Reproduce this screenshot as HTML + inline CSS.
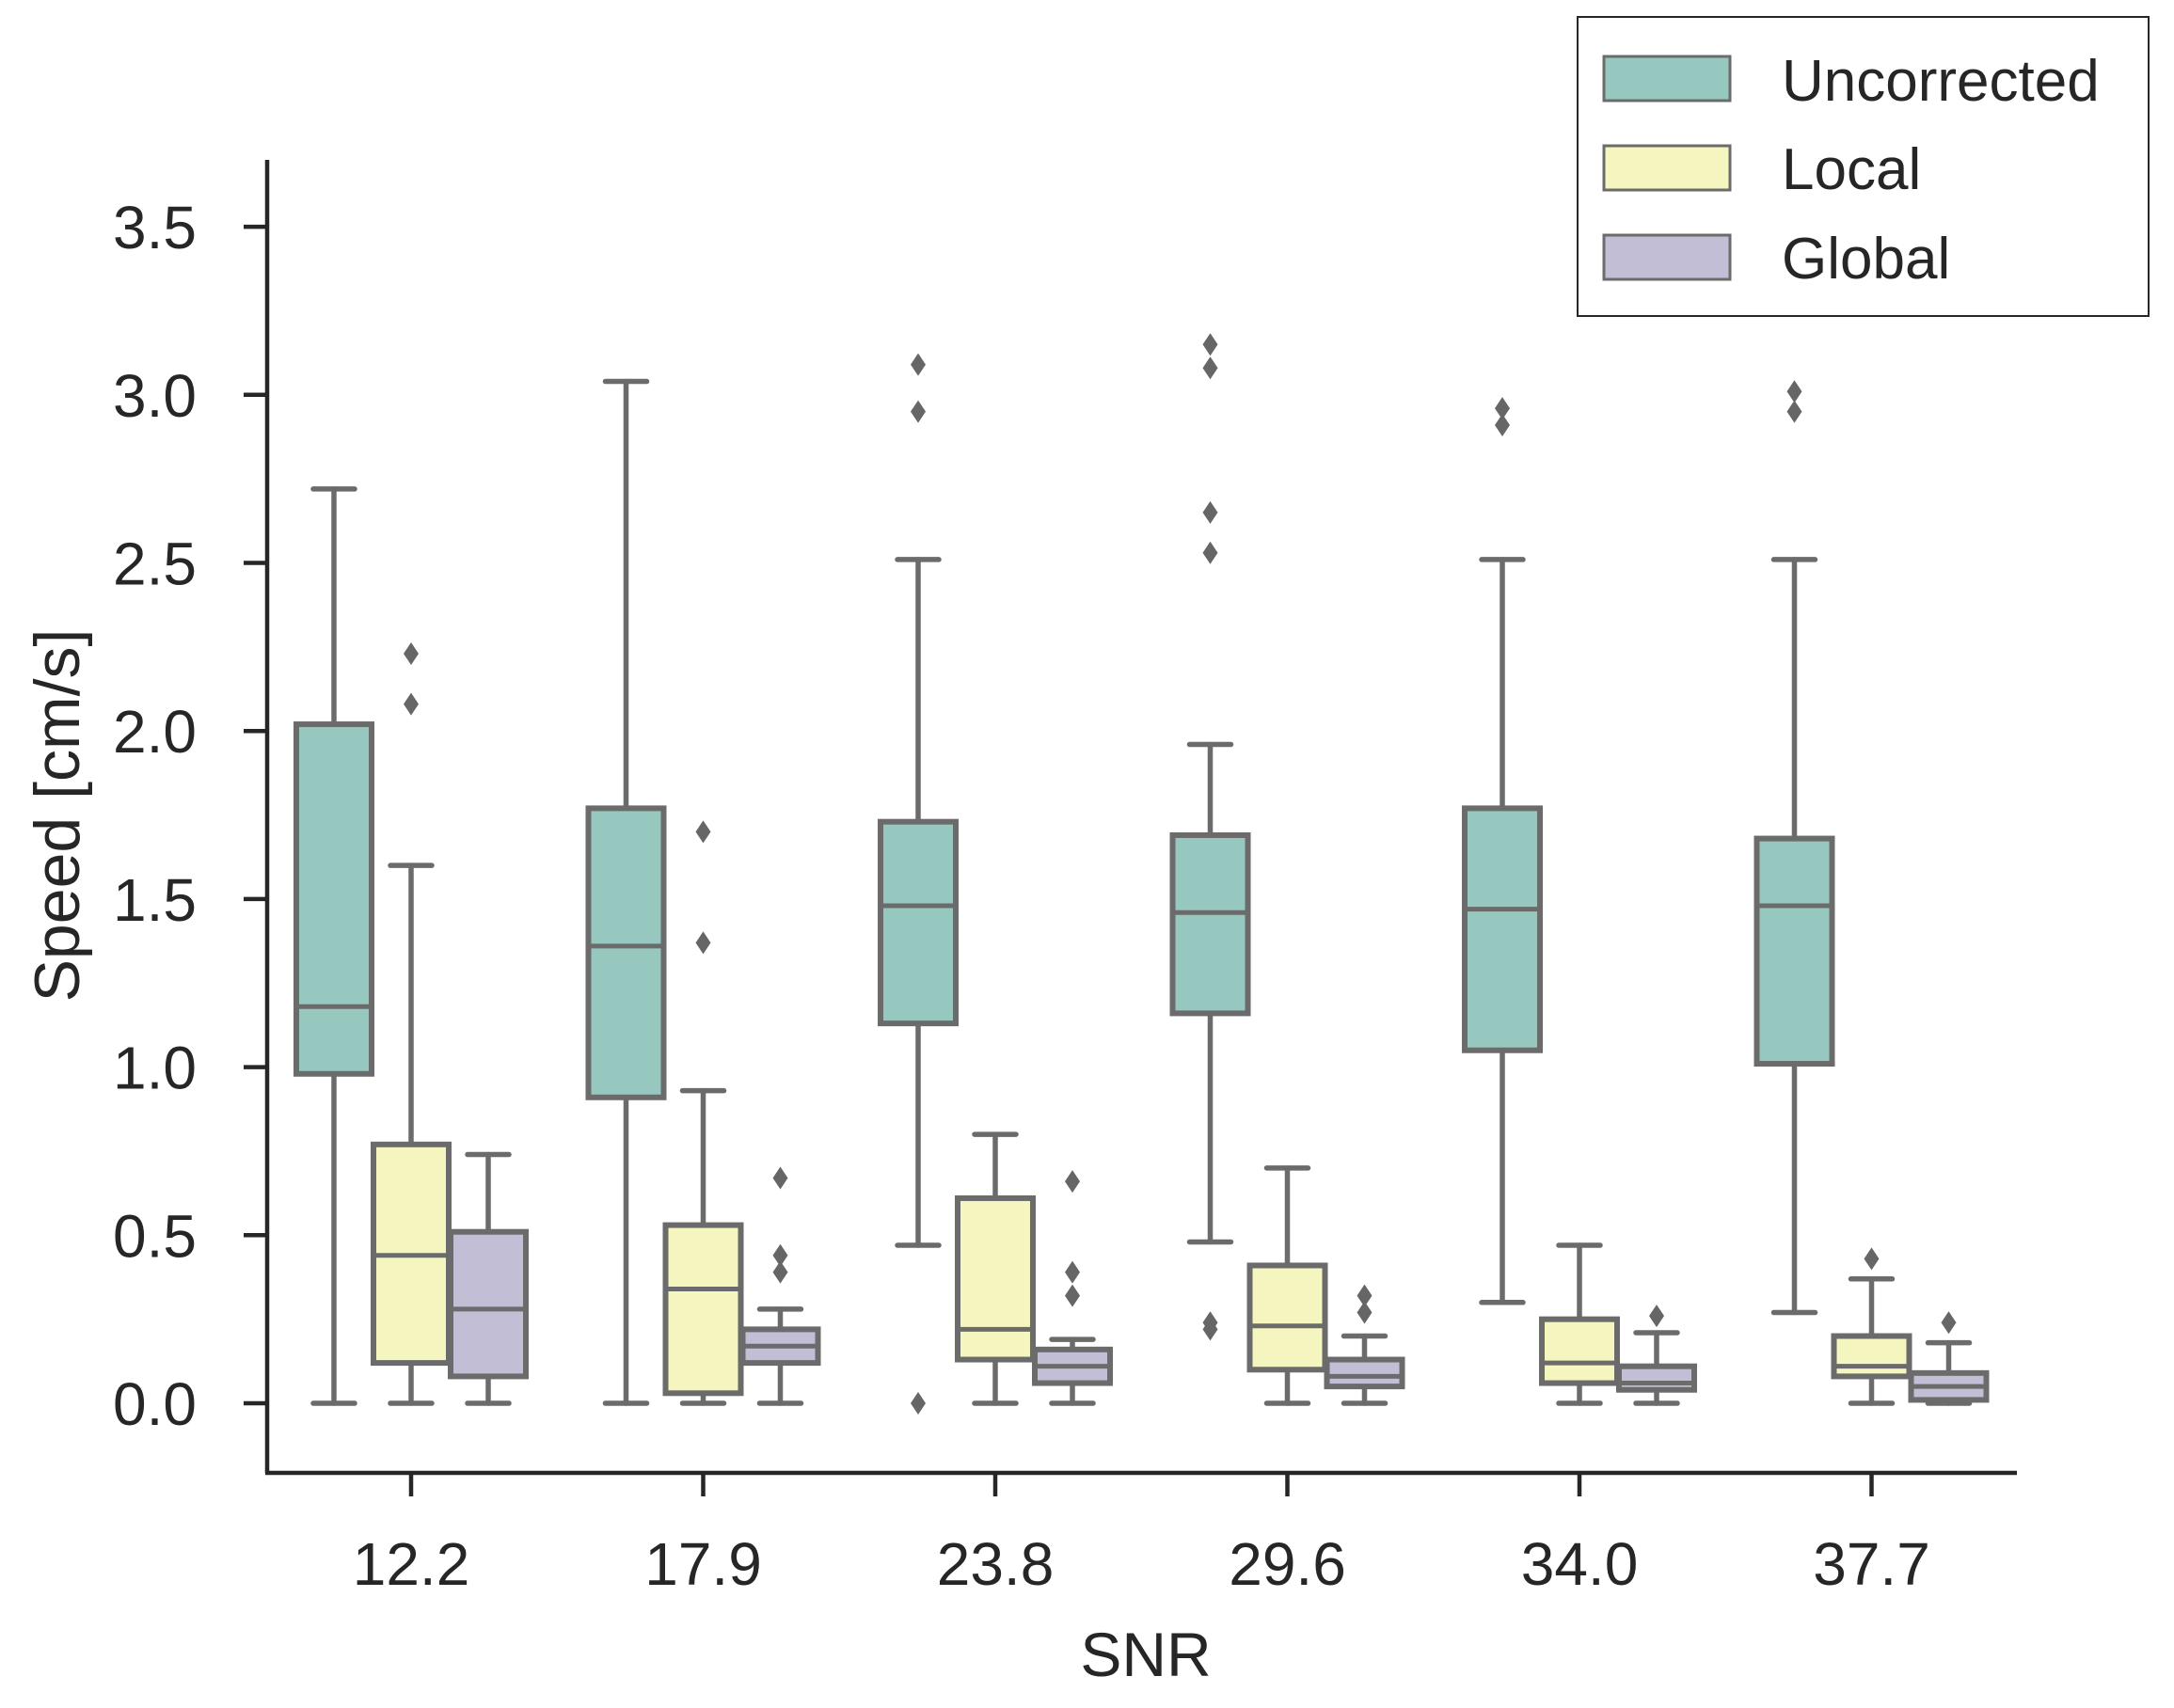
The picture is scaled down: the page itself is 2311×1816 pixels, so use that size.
<!DOCTYPE html>
<html><head><meta charset="utf-8"><style>
body{margin:0;background:#fff}
svg{display:block;font-family:"Liberation Sans",sans-serif}
</style></head><body>
<svg id="chart" width="2311" height="1816" viewBox="0 0 2311 1816" xmlns="http://www.w3.org/2000/svg">
<rect width="2311" height="1816" fill="#fff"/>
<g id="plot"></g>
<text x="1218" y="1782" font-size="66" text-anchor="middle" fill="#262626">SNR</text>
<text transform="translate(84,867) rotate(-90)" font-size="68" text-anchor="middle" fill="#262626">Speed [cm/s]</text>
<g>
<rect x="1677" y="18" width="607" height="318" fill="#fff" stroke="#262626" stroke-width="2"/>
<rect x="1705" y="60" width="134" height="47" fill="#97c8c0" stroke="#6b6b6b" stroke-width="3"/>
<text x="1894" y="107" font-size="62" fill="#262626">Uncorrected</text>
<rect x="1705" y="155" width="134" height="47" fill="#f5f6bf" stroke="#6b6b6b" stroke-width="3"/>
<text x="1894" y="201" font-size="62" fill="#262626">Local</text>
<rect x="1705" y="250" width="134" height="47" fill="#c1bed6" stroke="#6b6b6b" stroke-width="3"/>
<text x="1894" y="296" font-size="62" fill="#262626">Global</text>
</g>
</svg>
<script>
const categories = ["12.2","17.9","23.8","29.6","34.0","37.7"];
const seriesNames = ["Uncorrected","Local","Global"];
const yTicks = [0,0.5,1,1.5,2,2.5,3,3.5];
const yTickLabels = ["0.0","0.5","1.0","1.5","2.0","2.5","3.0","3.5"];
// [whiskerLow, q1, median, q3, whiskerHigh] per category
const uncorrected = [[0,0.98,1.18,2.02,2.72],[0,0.91,1.36,1.77,3.04],[0.47,1.13,1.48,1.73,2.51],[0.48,1.16,1.46,1.69,1.96],[0.30,1.05,1.47,1.77,2.51],[0.27,1.01,1.48,1.68,2.51]];
const local = [[0,0.12,0.44,0.77,1.60],[0,0.03,0.34,0.53,0.93],[0,0.13,0.22,0.61,0.80],[0,0.10,0.23,0.41,0.70],[0,0.06,0.12,0.25,0.47],[0,0.08,0.11,0.20,0.37]];
const global = [[0,0.08,0.28,0.51,0.74],[0,0.12,0.17,0.22,0.28],[0,0.06,0.11,0.16,0.19],[0,0.05,0.08,0.13,0.20],[0,0.04,0.06,0.11,0.21],[0,0.01,0.05,0.09,0.18]];
const uncorrectedOutliers = [[],[],[0.0,2.95,3.09],[0.22,0.24,2.53,2.65,3.08,3.15],[2.91,2.96],[2.95,3.01]];
const localOutliers = [[2.08,2.23],[1.37,1.70],[],[],[],[0.43]];
const globalOutliers = [[],[0.39,0.44,0.67],[0.32,0.39,0.66],[0.27,0.32],[0.26],[0.24]];

const NS="http://www.w3.org/2000/svg";
const g=document.getElementById('plot');
const colors=["#97c8c0","#f5f6bf","#c1bed6"];
const stats=[uncorrected,local,global];
const outs=[uncorrectedOutliers,localOutliers,globalOutliers];
const y0=1492, perUnit=357.4, x0=437, step=310.5, hueOff=82, bw=80;
const yS=v=>y0-v*perUnit;
const xS=i=>x0+i*step;
function el(tag,attrs){const e=document.createElementNS(NS,tag);for(const k in attrs)e.setAttribute(k,attrs[k]);g.appendChild(e);return e;}
let s=el('line',{x1:284,y1:170,x2:284,y2:1566,stroke:'#262626','stroke-width':4.5});


s=el('line',{x1:282,y1:1566,x2:2144,y2:1566,stroke:'#262626','stroke-width':4.5});


yTicks.forEach((v,i)=>{
  const t=el('line',{x1:259,y1:yS(v),x2:284,y2:yS(v),stroke:'#262626','stroke-width':4.5});
  
  
  const l=el('text',{x:209,y:yS(v)+23,'font-size':64,'text-anchor':'end',fill:'#262626'});
  l.textContent=yTickLabels[i];
  
  
});
categories.forEach((c,i)=>{
  const t=el('line',{x1:xS(i),y1:1566,x2:xS(i),y2:1591,stroke:'#262626','stroke-width':4.5});
  
  
  const l=el('text',{x:xS(i),y:1685,'font-size':64,'text-anchor':'middle',fill:'#262626'});
  l.textContent=c;
  
  
  for(let h=0;h<3;h++){
    const d=stats[h][i], cx=xS(i)+(h-1)*hueOff;
    const ln={stroke:'#6b6b6b','stroke-width':5.5,'stroke-linecap':'round'};
    const w1=el('line',Object.assign({x1:cx,y1:yS(d[0]),x2:cx,y2:yS(d[1])},ln));
    
    
    const w2=el('line',Object.assign({x1:cx,y1:yS(d[3]),x2:cx,y2:yS(d[4])},ln));
    
    
    [d[0],d[4]].forEach(v=>{
      const cap=el('line',Object.assign({x1:cx-22,y1:yS(v),x2:cx+22,y2:yS(v)},ln));
      
      
    });
    const b=el('rect',{x:cx-bw/2,y:yS(d[3]),width:bw,height:yS(d[1])-yS(d[3]),fill:colors[h],stroke:'#6b6b6b','stroke-width':6});
    
    
    const m=el('line',{x1:cx-bw/2,y1:yS(d[2]),x2:cx+bw/2,y2:yS(d[2]),stroke:'#6b6b6b','stroke-width':5});
    
    
    outs[h][i].forEach(v=>{
      const y=yS(v);
      const p=el('polygon',{points:`${cx},${y-12} ${cx+8},${y} ${cx},${y+12} ${cx-8},${y}`,fill:'#666'});
      
      
    });
  }
});
</script>
</body></html>
